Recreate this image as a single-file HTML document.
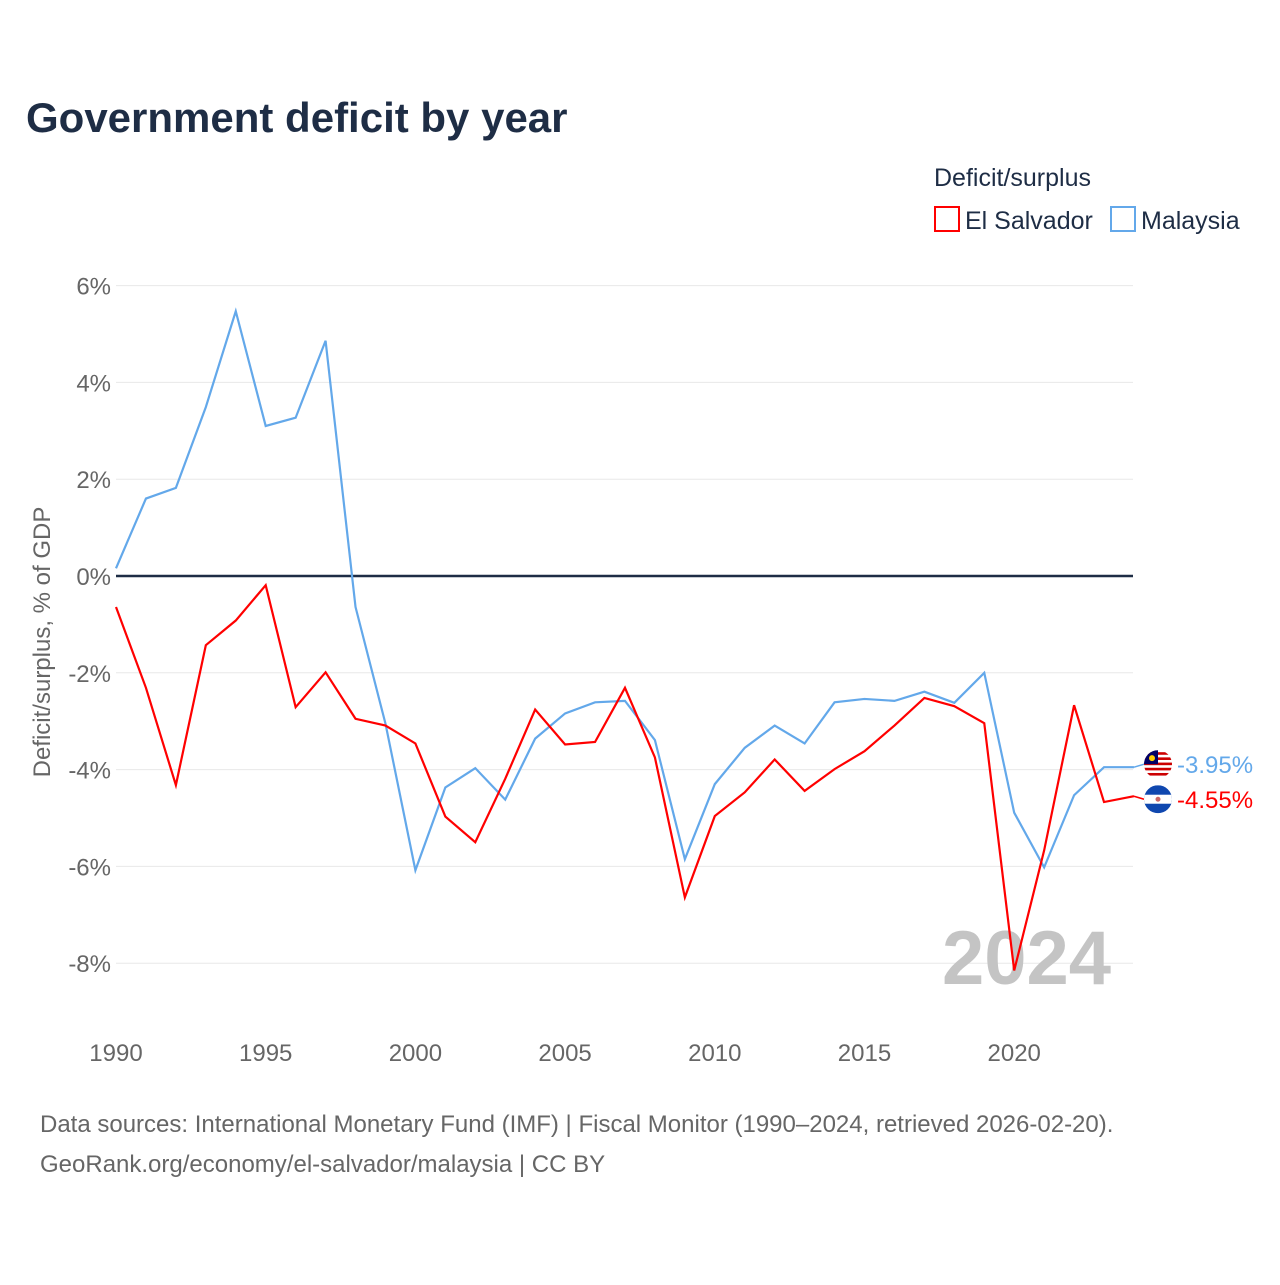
<!DOCTYPE html>
<html><head><meta charset="utf-8"><style>
body{margin:0;background:#fff;font-family:"Liberation Sans",sans-serif;}
#wrap{position:relative;width:1280px;height:1280px;}
</style></head><body>
<div id="wrap">
<svg id="chart" width="1280" height="1280" xmlns="http://www.w3.org/2000/svg">
<defs><clipPath id="cMy"><circle cx="1158" cy="0" r="14" id="cMyC"/></clipPath><clipPath id="cSv"><circle cx="1158" cy="0" r="14" id="cSvC"/></clipPath></defs>
<text x="26" y="132" font-size="42" font-weight="bold" fill="#1e2d45">Government deficit by year</text>
<text x="934" y="186" font-size="25" fill="#1e2d45">Deficit/surplus</text>
<g><rect x="935" y="207" width="24" height="24" fill="none" stroke="#ff0000" stroke-width="2"/><text x="965" y="229" font-size="25" fill="#1e2d45">El Salvador</text></g>
<g><rect x="1111" y="207" width="24" height="24" fill="none" stroke="#63a8ea" stroke-width="2"/><text x="1141" y="229" font-size="25" fill="#1e2d45">Malaysia</text></g>
<g id="grid"></g>
<text x="942" y="984" font-size="76" font-weight="bold" fill="#c4c4c4">2024</text>
<g id="series"></g>
<text transform="translate(50,642) rotate(-90)" text-anchor="middle" font-size="24" fill="#666">Deficit/surplus, % of GDP</text>
<text x="40" y="1132" font-size="24" fill="#666">Data sources: International Monetary Fund (IMF) | Fiscal Monitor (1990–2024, retrieved 2026-02-20).</text>
<text x="40" y="1172" font-size="24" fill="#666">GeoRank.org/economy/el-salvador/malaysia | CC BY</text>
</svg>
</div>
<script>
const years=[1990,1991,1992,1993,1994,1995,1996,1997,1998,1999,2000,2001,2002,2003,2004,2005,2006,2007,2008,2009,2010,2011,2012,2013,2014,2015,2016,2017,2018,2019,2020,2021,2022,2023,2024];
const elSalvador=[-0.64,-2.31,-4.32,-1.43,-0.92,-0.19,-2.71,-1.99,-2.95,-3.09,-3.46,-4.97,-5.50,-4.19,-2.76,-3.48,-3.43,-2.31,-3.75,-6.64,-4.96,-4.47,-3.79,-4.44,-3.99,-3.62,-3.09,-2.52,-2.69,-3.04,-8.15,-5.67,-2.67,-4.67,-4.55];
const malaysia=[0.16,1.60,1.82,3.49,5.47,3.10,3.27,4.86,-0.64,-3.05,-6.08,-4.37,-3.97,-4.62,-3.36,-2.84,-2.61,-2.58,-3.39,-5.85,-4.30,-3.55,-3.09,-3.46,-2.61,-2.54,-2.58,-2.39,-2.62,-2.00,-4.89,-6.02,-4.53,-3.95,-3.95];
const yTicks=[6,4,2,0,-2,-4,-6,-8];
const xTicks=[1990,1995,2000,2005,2010,2015,2020];
const NS="http://www.w3.org/2000/svg";
const x=v=>116+(v-1990)*29.94;
const y=v=>576-v*48.4;
const grid=document.getElementById('grid'),ser=document.getElementById('series');
function mk(tag,attrs,parent){const e=document.createElementNS(NS,tag);for(const k in attrs)e.setAttribute(k,attrs[k]);parent.appendChild(e);return e;}
yTicks.forEach(t=>{
  const l=mk('line',{x1:116,x2:1133,y1:y(t),y2:y(t),stroke:t===0?'#1e2d45':'#e8e8e8','stroke-width':t===0?2.5:1},grid);
  
  
  const tx=mk('text',{x:111,y:y(t)+9,'text-anchor':'end','font-size':24,fill:'#666'},grid);
  tx.textContent=t+'%';
  
  
});
xTicks.forEach(t=>{
  const tx=mk('text',{x:x(t),y:1061,'text-anchor':'middle','font-size':24,fill:'#666'},grid);
  tx.textContent=t;
  
  
});
function line(vals,color,name){
  const p=mk('polyline',{points:vals.map((v,i)=>x(years[i])+','+y(v)).join(' '),fill:'none',stroke:color,'stroke-width':2.2,'stroke-linejoin':'miter'},ser);
  
  
}
line(malaysia,'#63a8ea','malaysia-line');
line(elSalvador,'#ff0000','el-salvador-line');
function endLabel(vals,color,name,isMy,dy){
  const v=vals[vals.length-1],cy=y(v)+dy,cx=1158;
  const g=mk('g',{},ser);
  
  
  mk('line',{x1:x(2024),x2:cx-14,y1:y(v),y2:cy,stroke:color,'stroke-width':1.5},g);
  document.getElementById(isMy?'cMyC':'cSvC').setAttribute('cy',cy);
  const f=mk('g',{'clip-path':isMy?'url(#cMy)':'url(#cSv)'},g);
  if(isMy){
    mk('rect',{x:cx-14,y:cy-14,width:28,height:28,fill:'#fff'},f);
    for(let i=0;i<5;i++)mk('rect',{x:cx-14,y:cy-12+i*5.2,width:28,height:2.6,fill:'#cc0001'},f);
    mk('rect',{x:cx-14,y:cy-14,width:14,height:14,fill:'#010066'},f);
    mk('circle',{cx:cx-6,cy:cy-6,r:3,fill:'#fc0'},f);
  }else{
    mk('rect',{x:cx-14,y:cy-14,width:28,height:28,fill:'#0f47af'},f);
    mk('rect',{x:cx-14,y:cy-4.5,width:28,height:9,fill:'#fff'},f);
    mk('circle',{cx:cx,cy:cy,r:2.5,fill:'#c66'},f);
  }
  const t=mk('text',{x:cx+19,y:cy+9,'font-size':24,fill:color},g);
  t.textContent=v.toFixed(2)+'%';
}
endLabel(malaysia,'#63a8ea','malaysia-end-label',true,-3);
endLabel(elSalvador,'#ff0000','el-salvador-end-label',false,3);
</script>
</body></html>
